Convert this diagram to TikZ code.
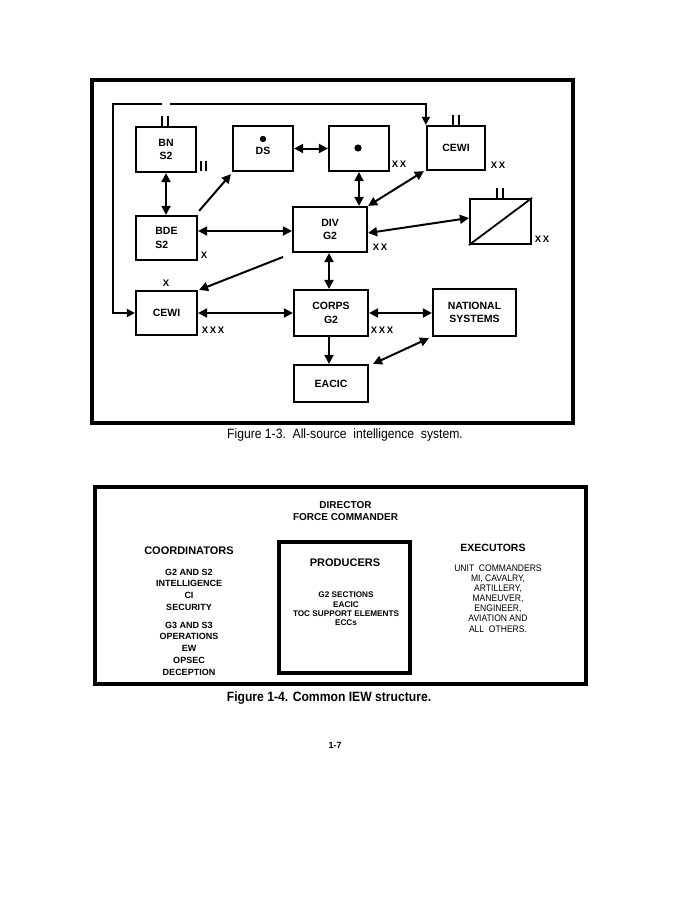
\documentclass[tikz,border=0pt]{standalone}
\usepackage{fontspec}
\setmainfont{Liberation Sans}
\newfontfamily\narrowfont[FakeStretch=0.9]{Liberation Sans}
\usetikzlibrary{arrows.meta}
\begin{document}
\begin{tikzpicture}[x=1pt,y=-1pt,
  box/.style={draw, line width=2.2pt, inner sep=0pt, font=\bfseries\fontsize{10.5}{13.5}\selectfont, align=center},
  tip/.style={},
  dar/.style={line width=2pt, {Triangle[length=9pt,width=9pt]}-{Triangle[length=9pt,width=9pt]}},
  sar/.style={line width=2pt, -{Triangle[length=9pt,width=9pt]}},
  fb/.style={line width=1.5pt},
  ech/.style={font=\bfseries\fontsize{9.5}{10}\selectfont, inner sep=0pt},
  tickmark/.style={line width=1.5pt},
  frame/.style={line width=3.2pt},
  lbl/.style={inner sep=0pt, align=center},
]
\fill[white] (0,0) rectangle (690,899);
\useasboundingbox (0,0) rectangle (690,899);

% ---------------- Figure 1-3 ----------------
\draw[frame] (92,80) rectangle (573,423);

\node[box, minimum width=60pt, minimum height=45pt] (bn) at (166,149.5) {BN\\S2};
\node[box, minimum width=60pt, minimum height=45pt] (ds) at (263,148.5) {};
\node[lbl, font=\bfseries\fontsize{10.5}{11}\selectfont] (dslbl) at (263,151) {DS};
\fill (263,139) circle (3.2pt);
\node[box, minimum width=60pt, minimum height=45pt] (dotb) at (359,148.5) {};
\fill (358,148) circle (3.6pt);
\node[box, minimum width=58pt, minimum height=44pt] (cewiB) at (456,148) {CEWI};
\node[box, minimum width=61pt, minimum height=44pt, align=left] (bde) at (166.5,238) {BDE\\S2};
\node[box, minimum width=74pt, minimum height=45pt] (div) at (330,229.5) {DIV\\G2};
\node[box, minimum width=61pt, minimum height=45pt] (slash) at (500.5,221.5) {};
\draw[line width=1.8pt] (slash.south west) -- (slash.north east);
\node[box, minimum width=61pt, minimum height=44pt] (cewiA) at (166.5,313) {CEWI};
\node[box, minimum width=74pt, minimum height=46pt] (corps) at (331,313) {CORPS\\G2};
\node[box, minimum width=83pt, minimum height=47pt] (nat) at (474.5,312.5) {NATIONAL\\SYSTEMS};
\node[box, minimum width=74pt, minimum height=37pt] (eacic) at (331,383.5) {EACIC};

% echelon labels
\node[ech] (l1) at (399,164) {X\,X};
\node[ech] (l2) at (498,165) {X\,X};
\node[ech] (l3) at (380,247) {X\,X};
\node[ech] (l4) at (542,239) {X\,X};
\node[ech] (l5) at (204,255) {X};
\node[ech] (l6) at (166,283) {X};
\node[ech] (l7) at (213,330) {X\,X\,X};
\node[ech] (l8) at (382,330) {X\,X\,X};

% tick marks
\draw[tickmark] (162,116) -- (162,127) (168,116) -- (168,127);
\draw[tickmark] (201,161) -- (201,171) (206,161) -- (206,171);
\draw[tickmark] (453,115) -- (453,126) (459,115) -- (459,126);
\draw[tickmark] (497,188) -- (497,199) (503,188) -- (503,199);

% feedback line
\coordinate (fbTL) at (113,104);
\coordinate (gapL) at (162,104);
\coordinate (gapR) at (170,104);
\draw[fb, -{Triangle[length=8pt,width=8pt]}] (gapL) -- (fbTL) -- (fbTL |- cewiA.west) -- (cewiA.west);
\draw[fb, -{Triangle[length=8pt,width=8pt]}] (gapR) -- (cewiB.north west |- fbTL) -- (cewiB.north west);

% connectors
\draw[dar] (bn.south) -- (bn.south |- bde.north);
\draw[sar] ([shift={(1,-4)}]bde.north east) -- ([shift={(-1,2)}]ds.south west);
\draw[dar] (ds.east) -- (dotb.west);
\draw[dar] (dotb.south) -- (dotb.south |- div.north);
\draw[dar] ([shift={(-2,0)}]cewiB.south west) -- (div.north east);
\draw[dar] (bde.east |- 0,231) -- (div.west |- 0,231);
\draw[dar] (div.east |- 0,233) -- (slash.west |- 0,218);
\coordinate (dstart) at (283,257);
\draw[sar] (dstart) -- ([shift={(1,0)}]cewiA.north east);
\draw[dar] (div.south -| 329,0) -- (corps.north -| 329,0);
\draw[sar] (corps.south -| 329,0) -- (eacic.north -| 329,0);
\draw[dar] (cewiA.east) -- (corps.west);
\draw[dar] (corps.east) -- (corps.east -| nat.west);
\draw[dar] ([shift={(-3,1)}]nat.south west) -- ([shift={(4,0)}]eacic.north east);

\node[lbl, font=\narrowfont\fontsize{13.5}{15}\selectfont] (cap1) at (345,435) {Figure 1-3.\ \ All-source\ \ intelligence\ \ system.};

% ---------------- Figure 1-4 ----------------
\draw[frame] (95,487) rectangle (586,684);
\draw[frame] (279,542) rectangle (410,673);

\node[lbl, font=\bfseries\fontsize{10}{12}\selectfont] (dir) at (345.5,511) {DIRECTOR\\FORCE COMMANDER};
\node[lbl, font=\bfseries\fontsize{11}{12}\selectfont] (prod) at (345,563) {PRODUCERS};
\node[lbl, font=\bfseries\fontsize{8.2}{9.4}\selectfont] (prodl) at (346,609) {G2 SECTIONS\\EACIC\\TOC SUPPORT ELEMENTS\\ECCs};
\node[lbl, font=\bfseries\fontsize{11}{12}\selectfont] (coord) at (189,551) {COORDINATORS};
\node[lbl, font=\bfseries\fontsize{9}{11.7}\selectfont] (coordA) at (189,589.5) {G2 AND S2\\INTELLIGENCE\\CI\\SECURITY};
\node[lbl, font=\bfseries\fontsize{9}{11.7}\selectfont] (coordB) at (189,648.5) {G3 AND S3\\OPERATIONS\\EW\\OPSEC\\DECEPTION};
\node[lbl, font=\bfseries\fontsize{10.5}{12}\selectfont] (exec) at (493,548) {EXECUTORS};
\node[lbl, font=\narrowfont\fontsize{9.5}{10.1}\selectfont] (execl) at (498,598.5) {UNIT\ \ COMMANDERS\\MI, CAVALRY,\\ARTILLERY,\\MANEUVER,\\ENGINEER,\\AVIATION AND\\ALL\ \ OTHERS.};

\node[lbl, font=\narrowfont\bfseries\fontsize{13.5}{15}\selectfont] (cap2) at (329,698) {Figure 1-4. Common IEW structure.};

\node[lbl, font=\bfseries\fontsize{9}{10}\selectfont] (page) at (335,745) {1-7};
\end{tikzpicture}
\end{document}
